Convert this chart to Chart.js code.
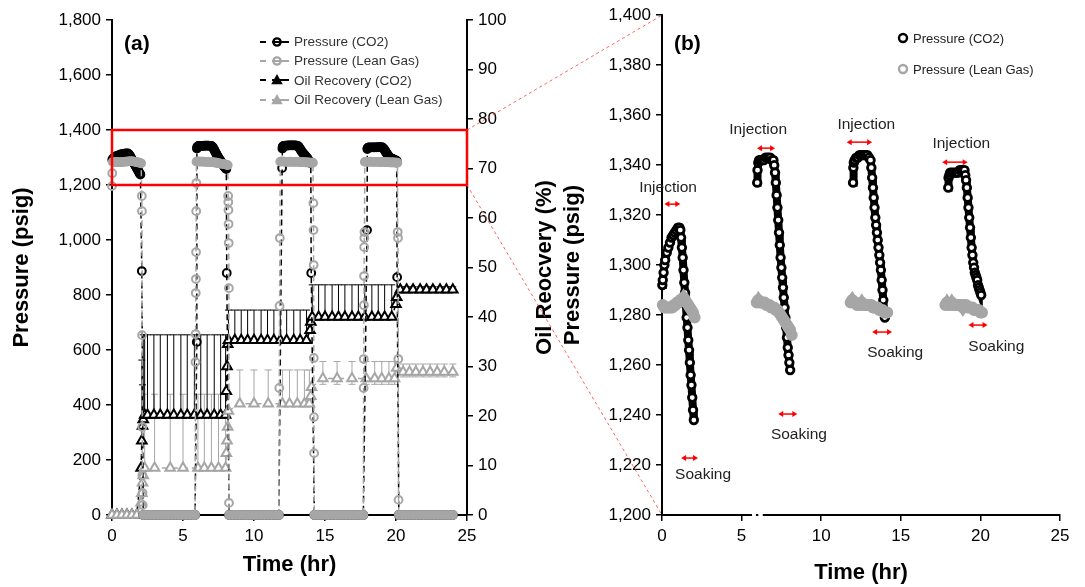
<!DOCTYPE html>
<html>
<head>
<meta charset="utf-8">
<title>Pressure and oil recovery</title>
<script src="https://cdn.jsdelivr.net/npm/chart.js@4.4.1/dist/chart.umd.min.js"></script>
<style>
    body {
        margin: 0;
        width: 1085px;
        height: 587px;
        position: relative;
        overflow: hidden;
        background: #fff;
        font-family: 'Liberation Sans', Arial, sans-serif;
    }
    canvas.chart { position: absolute; top: 0; }
    #leftChart { left: 0; }
    #rightChart { left: 560px; }
    #overlay { position: absolute; left: 0; top: 0; pointer-events: none; }
    .tag { position: absolute; font-size: 21px; font-weight: bold; color: #000; }
    .legend { position: absolute; font-size: 13.5px; color: #333; }
    .legend .row { display: flex; align-items: center; height: 19.3px; white-space: nowrap; }
    .legend svg { margin-right: 3px; flex: none; }
    .legend2 { position: absolute; font-size: 13px; color: #222; white-space: nowrap; }
    .legend2 .row { display: flex; align-items: center; height: 14px; }
    .legend2 svg { margin-right: 4px; flex: none; }
</style>
</head>
<body>
<canvas id="leftChart" class="chart" width="560" height="587"></canvas>
<canvas id="rightChart" class="chart" width="525" height="587"></canvas>
<canvas id="overlay" width="1085" height="587"></canvas>

<div class="tag" style="left:124px; top:31px;">(a)</div>
<div class="tag" style="left:674px; top:31px;">(b)</div>

<div class="legend" style="left:259px; top:32px;">
    <div class="row">
        <svg width="32" height="12"><line x1="1" y1="6" x2="7" y2="6" stroke="#000" stroke-width="2"/><line x1="13" y1="6" x2="30" y2="6" stroke="#000" stroke-width="2"/><circle cx="18" cy="6" r="3.6" fill="none" stroke="#000" stroke-width="2.4"/></svg>
        <span>Pressure (CO2)</span>
    </div>
    <div class="row">
        <svg width="32" height="12"><line x1="1" y1="6" x2="7" y2="6" stroke="#a6a6a6" stroke-width="2"/><line x1="13" y1="6" x2="30" y2="6" stroke="#a6a6a6" stroke-width="2"/><circle cx="18" cy="6" r="3.6" fill="none" stroke="#a6a6a6" stroke-width="2.4"/></svg>
        <span>Pressure (Lean Gas)</span>
    </div>
    <div class="row">
        <svg width="32" height="12"><line x1="1" y1="6" x2="7" y2="6" stroke="#000" stroke-width="2"/><line x1="13" y1="6" x2="30" y2="6" stroke="#000" stroke-width="2"/><polygon points="18,1.5 22.5,9.5 13.5,9.5" fill="#000" stroke="#000" stroke-width="1.5"/></svg>
        <span>Oil Recovery (CO2)</span>
    </div>
    <div class="row">
        <svg width="32" height="12"><line x1="1" y1="6" x2="7" y2="6" stroke="#a6a6a6" stroke-width="2"/><line x1="13" y1="6" x2="30" y2="6" stroke="#a6a6a6" stroke-width="2"/><polygon points="18,1.5 22.5,9.5 13.5,9.5" fill="#a6a6a6" stroke="#a6a6a6" stroke-width="1.5"/></svg>
        <span>Oil Recovery (Lean Gas)</span>
    </div>
</div>

<div class="legend2" style="left:897px; top:31px;">
    <div class="row"><svg width="12" height="12"><circle cx="6" cy="6" r="4" fill="none" stroke="#000" stroke-width="2.4"/></svg><span>Pressure (CO2)</span></div>
</div>
<div class="legend2" style="left:897px; top:62px;">
    <div class="row"><svg width="12" height="12"><circle cx="6" cy="6" r="4" fill="none" stroke="#a6a6a6" stroke-width="2.4"/></svg><span>Pressure (Lean Gas)</span></div>
</div>

<script>
// ---------------- data (time in hr, pressure in psig, recovery in %) ----------------

// CO2 pressure during injection + soaking, cycles 1-4
const co2T1 = [0.02, 0.05, 0.1, 0.15, 0.2, 0.3, 0.4, 0.5, 0.6, 0.7, 0.8, 0.9, 1.0, 1.1, 1.15, 1.2, 1.25, 1.3, 1.35, 1.4, 1.45, 1.5, 1.55, 1.6, 1.65, 1.7, 1.75, 1.8, 1.85, 1.9, 1.95, 2.0];
const co2P1 = [1292, 1294, 1297, 1300, 1302, 1305, 1307, 1309, 1311, 1312, 1313, 1314, 1315, 1315, 1314, 1311, 1307, 1303, 1298, 1293, 1289, 1284, 1279, 1275, 1270, 1266, 1261, 1256, 1252, 1247, 1242, 1238];
const co2T2 = [5.98, 6.0, 6.05, 6.1, 6.2, 6.3, 6.4, 6.5, 6.6, 6.7, 6.8, 6.9, 7.0, 7.05, 7.1, 7.15, 7.2, 7.25, 7.3, 7.35, 7.4, 7.45, 7.5, 7.55, 7.6, 7.65, 7.7, 7.75, 7.8, 7.85, 7.9, 7.95, 8.0, 8.05];
const co2P2 = [1333, 1338, 1341, 1342, 1342, 1342, 1342, 1343, 1343, 1343, 1343, 1342, 1342, 1340, 1337, 1333, 1328, 1323, 1318, 1313, 1308, 1303, 1299, 1295, 1291, 1287, 1283, 1279, 1275, 1271, 1267, 1264, 1261, 1258];
const co2T3 = [12.0, 12.02, 12.05, 12.1, 12.2, 12.3, 12.4, 12.5, 12.6, 12.7, 12.8, 12.9, 13.0, 13.1, 13.15, 13.2, 13.25, 13.3, 13.35, 13.4, 13.45, 13.5, 13.55, 13.6, 13.65, 13.7, 13.75, 13.8, 13.85, 13.9, 13.95, 14.0];
const co2P3 = [1333, 1339, 1341, 1342, 1343, 1343, 1344, 1344, 1344, 1344, 1344, 1344, 1343, 1342, 1339, 1335, 1331, 1327, 1323, 1319, 1316, 1313, 1310, 1307, 1304, 1301, 1298, 1294, 1290, 1286, 1282, 1279];
const co2T4 = [17.98, 18.0, 18.05, 18.1, 18.2, 18.3, 18.4, 18.5, 18.6, 18.7, 18.8, 18.9, 19.0, 19.05, 19.1, 19.15, 19.2, 19.25, 19.3, 19.35, 19.4, 19.45, 19.5, 19.55, 19.6, 19.65, 19.7, 19.75, 19.8, 19.85, 19.9, 19.95, 20.0, 20.05];
const co2P4 = [1331, 1335, 1336, 1337, 1337, 1337, 1337, 1337, 1337, 1338, 1338, 1338, 1338, 1336, 1334, 1331, 1327, 1323, 1319, 1315, 1311, 1307, 1304, 1301, 1299, 1297, 1296, 1295, 1294, 1292, 1291, 1290, 1289, 1288];

// Lean gas pressure during injection + soaking, cycles 1-4
const leanT1 = [0.05, 0.15, 0.25, 0.35, 0.45, 0.55, 0.65, 0.75, 0.85, 0.95, 1.05, 1.15, 1.25, 1.35, 1.45, 1.55, 1.65, 1.75, 1.85, 1.95, 2.05];
const leanP1 = [1284, 1283, 1283, 1283, 1283, 1283, 1283, 1284, 1284, 1285, 1285, 1286, 1286, 1287, 1286, 1285, 1284, 1283, 1282, 1281, 1279];
const leanT2 = [5.95, 6.05, 6.15, 6.25, 6.35, 6.45, 6.55, 6.65, 6.75, 6.85, 6.95, 7.05, 7.15, 7.25, 7.35, 7.45, 7.55, 7.65, 7.75, 7.85, 7.95, 8.05, 8.15];
const leanP2 = [1285, 1286, 1285, 1285, 1285, 1285, 1284, 1284, 1284, 1283, 1283, 1283, 1282, 1282, 1281, 1280, 1279, 1278, 1277, 1276, 1275, 1274, 1272];
const leanT3 = [11.85, 11.95, 12.05, 12.15, 12.25, 12.35, 12.45, 12.55, 12.65, 12.75, 12.85, 12.95, 13.05, 13.15, 13.25, 13.35, 13.45, 13.55, 13.65, 13.75, 13.85, 13.95, 14.05, 14.15];
const leanP3 = [1285, 1286, 1285, 1285, 1284, 1284, 1284, 1285, 1284, 1284, 1284, 1284, 1284, 1284, 1283, 1283, 1283, 1283, 1282, 1282, 1282, 1281, 1281, 1281];
const leanT4 = [17.8, 17.9, 18.0, 18.1, 18.2, 18.3, 18.4, 18.5, 18.6, 18.7, 18.8, 18.9, 19.0, 19.1, 19.2, 19.3, 19.4, 19.5, 19.6, 19.7, 19.8, 19.9, 20.0, 20.1];
const leanP4 = [1284, 1285, 1284, 1284, 1285, 1284, 1284, 1284, 1284, 1284, 1284, 1283, 1284, 1284, 1283, 1283, 1283, 1283, 1282, 1282, 1282, 1282, 1281, 1281];

// production periods (both gases back at 0 psig)
const prodT1 = [2.2, 2.45, 2.7, 2.95, 3.2, 3.45, 3.7, 3.95, 4.2, 4.45, 4.7, 4.95, 5.2, 5.45, 5.7, 5.85];
const prodP1 = [0, 0, 0, 0, 0, 0, 0, 0, 0, 0, 0, 0, 0, 0, 0, 0];
const prodT2 = [8.25, 8.5, 8.75, 9.0, 9.25, 9.5, 9.75, 10.0, 10.25, 10.5, 10.75, 11.0, 11.25, 11.5, 11.75];
const prodP2 = [0, 0, 0, 0, 0, 0, 0, 0, 0, 0, 0, 0, 0, 0, 0];
const prodT3 = [14.25, 14.5, 14.75, 15.0, 15.25, 15.5, 15.75, 16.0, 16.25, 16.5, 16.75, 17.0, 17.25, 17.5, 17.7];
const prodP3 = [0, 0, 0, 0, 0, 0, 0, 0, 0, 0, 0, 0, 0, 0, 0];
const prodT4 = [20.2, 20.45, 20.7, 20.95, 21.2, 21.45, 21.7, 21.95, 22.2, 22.45, 22.7, 22.95, 23.2, 23.45, 23.7, 24.0];
const prodP4 = [0, 0, 0, 0, 0, 0, 0, 0, 0, 0, 0, 0, 0, 0, 0, 0];

// readings logged while pressure was falling / building between periods
const co2StepT = [2.1, 5.97, 8.08, 11.98, 14.03, 17.96, 20.08];
const co2StepP = [887, 629, 880, 1262, 880, 1036, 865];
const leanStepT = [0, 0.02, 2.1, 2.11, 2.12, 2.13, 2.14, 2.15, 2.16, 5.88, 5.89, 5.9, 5.91, 5.92, 5.93, 5.94, 8.18, 8.19, 8.2, 8.21, 8.22, 8.23, 8.24, 11.78, 11.8, 11.82, 14.18, 14.19, 14.2, 14.21, 14.22, 14.23, 17.72, 17.73, 17.74, 17.75, 17.76, 17.77, 17.78, 20.12, 20.14, 20.16, 20.18];
const leanStepP = [1196, 1243, 1160, 1105, 654, 320, 145, 80, 36, 556, 658, 807, 858, 956, 1105, 1207, 1160, 1138, 1109, 1058, 989, 825, 44, 462, 760, 1007, 1134, 1036, 909, 571, 356, 225, 462, 567, 763, 869, 974, 1007, 1029, 1029, 1007, 567, 55];

// oil recovery, CO2
const recCo2T = [0, 0.35, 0.7, 1.05, 1.4, 1.75, 2.05, 2.1, 2.15, 2.2, 2.3, 2.5, 2.95, 3.4, 3.9, 4.35, 4.85, 5.3, 5.8, 6.25, 6.7, 7.2, 7.65, 8.0, 8.05, 8.1, 8.15, 8.2, 8.65, 9.1, 9.55, 10.0, 10.5, 10.95, 11.4, 11.85, 12.3, 12.8, 13.25, 13.7, 13.95, 14.0, 14.1, 14.55, 15.0, 15.5, 15.95, 16.4, 16.9, 17.35, 17.8, 18.3, 18.75, 19.2, 19.7, 20.0, 20.05, 20.3, 20.75, 21.2, 21.7, 22.15, 22.6, 23.1, 23.55, 24.0];
const recCo2V = [0, 0, 0, 0, 0, 0, 9.5, 15, 18, 19.3, 20.2, 20.2, 20.2, 20.2, 20.2, 20.2, 20.2, 20.2, 20.2, 20.2, 20.2, 20.2, 20.2, 20.2, 25, 30, 34.5, 35.3, 35.3, 35.3, 35.3, 35.3, 35.3, 35.3, 35.3, 35.3, 35.3, 35.3, 35.3, 35.3, 37.3, 39, 40, 40, 40, 40, 40, 40, 40, 40, 40, 40, 40, 40, 40, 42.6, 44, 45.5, 45.5, 45.5, 45.5, 45.5, 45.5, 45.5, 45.5, 45.5];
const recCo2Err = [0, 0, 0, 0, 0, 0, 0, 16.3, 8.3, 17.1, 16.2, 16.2, 16.2, 16.2, 16.2, 16.2, 16.2, 16.2, 16.2, 16.2, 16.2, 16.2, 16.2, 16.2, 0, 0, 0, 6.1, 6.1, 6.1, 6.1, 6.1, 6.1, 6.1, 6.1, 6.1, 6.1, 6.1, 6.1, 6.1, 0, 0, 6.5, 6.5, 6.5, 6.5, 6.5, 6.5, 6.5, 6.5, 6.5, 6.5, 6.5, 6.5, 6.5, 0, 0, 0.6, 0.6, 0.6, 0.6, 0.6, 0.6, 0.6, 0.6, 0.6];

// oil recovery, lean gas
const recLeanT = [0, 0.35, 0.7, 1.05, 1.4, 1.75, 2.05, 2.1, 2.15, 2.2, 2.3, 3.0, 4.1, 5.0, 6.05, 6.5, 7.0, 7.5, 8.0, 8.05, 8.1, 8.15, 8.2, 9.0, 10.0, 11.0, 12.0, 12.5, 13.05, 13.55, 13.9, 14.0, 14.05, 14.85, 15.85, 16.9, 17.9, 18.5, 19.0, 19.5, 19.9, 20.05, 20.5, 20.95, 21.4, 21.9, 22.4, 22.9, 23.4, 24.0];
const recLeanV = [0, 0, 0, 0, 0, 0, 2.5, 4.4, 6.5, 8, 9.5, 9.5, 9.5, 9.5, 9.5, 9.5, 9.5, 9.5, 9.5, 12.5, 15, 17.8, 21, 22.5, 22.5, 22.5, 22.5, 22.5, 22.5, 22.5, 22.5, 24, 25.8, 27.6, 27.6, 27.6, 27.6, 27.6, 27.6, 27.6, 27.6, 29.7, 28.9, 28.9, 28.9, 28.9, 28.9, 28.9, 28.9, 28.9];
const recLeanErr = [0, 0, 0, 0, 0, 0, 0, 0, 0, 0, 14.9, 14.9, 14.9, 14.9, 14.9, 14.9, 14.9, 14.9, 14.9, 0, 0, 0, 0, 6.8, 6.8, 6.8, 6.8, 6.8, 6.8, 6.8, 6.8, 0, 0, 3.4, 3.4, 3.4, 3.4, 3.4, 3.4, 3.4, 3.4, 0, 1.6, 1.6, 1.6, 1.6, 1.6, 1.6, 1.6, 1.6];
const recLeanErrLow = [0, 0, 0, 0, 0, 0, 0, 0, 0, 0, 0, 0, 0, 0, 0, 0, 0, 0, 0, 0, 0, 0, 0, 0, 0, 0, 0, 0, 0, 0, 0, 0, 0, 1.2, 1.2, 1.2, 1.2, 1.2, 1.2, 1.2, 1.2, 0, 1.0, 1.0, 1.0, 1.0, 1.0, 1.0, 1.0, 1.0];

// tick ranges
const timeTicks = [0, 25, 5];
const pressTicks = [0, 1800, 200];
const recTicks = [0, 100, 10];
const zoomTicks = [1200, 1400, 20];

// ---------------- helpers ----------------

const GRAY = '#a6a6a6';
const FONT = "'Liberation Sans', Arial, sans-serif";

Chart.defaults.font.family = FONT;
Chart.defaults.color = '#000';

// dense = logged every few minutes, so the markers merge into a solid band
function pairs(ts, vs, dense) {
    return ts.map((t, i) => ({ x: t, y: vs[i], dense: !!dense }));
}

function byTime(a, b) {
    return a.x - b.x;
}

function comma(v) {
    return String(v).replace(/\B(?=(\d{3})+(?!\d))/g, ',');
}

const co2Cycles = [pairs(co2T1, co2P1, true), pairs(co2T2, co2P2, true), pairs(co2T3, co2P3, true), pairs(co2T4, co2P4, true)];
const leanCycles = [pairs(leanT1, leanP1, true), pairs(leanT2, leanP2, true), pairs(leanT3, leanP3, true), pairs(leanT4, leanP4, true)];
const production = [].concat(pairs(prodT1, prodP1, true), pairs(prodT2, prodP2, true), pairs(prodT3, prodP3, true), pairs(prodT4, prodP4, true));

const co2Full = [].concat(...co2Cycles, production, pairs(co2StepT, co2StepP)).sort(byTime);
const leanFull = [].concat(...leanCycles, production, pairs(leanStepT, leanStepP)).sort(byTime);

function axisStyle(extra) {
    return Object.assign({
        type: 'linear',
        grid: { drawOnChartArea: false, drawTicks: true, tickLength: 6, color: '#000', lineWidth: 1.5 },
        border: { display: true, color: '#000', width: 2 }
    }, extra);
}

function tickFont() {
    return { size: 17 };
}

function titleFont() {
    return { size: 22, weight: 'bold' };
}

// vertical error bars drawn under the markers
const errorBars = {
    id: 'errorBars',
    beforeDatasetsDraw(chart) {
        const ctx = chart.ctx;
        chart.data.datasets.forEach((ds, i) => {
            if (!ds.errPlus) return;
            const meta = chart.getDatasetMeta(i);
            const ys = chart.scales[meta.yAxisID];
            ctx.save();
            ctx.strokeStyle = ds.borderColor;
            ctx.lineWidth = 1;
            meta.data.forEach((pt, j) => {
                const v = ds.data[j].y;
                const up = ds.errPlus[j] || 0;
                const dn = ds.errMinus ? (ds.errMinus[j] || 0) : 0;
                if (!up && !dn) return;
                const yTop = ys.getPixelForValue(v + up);
                const yBot = ys.getPixelForValue(v - dn);
                ctx.beginPath();
                ctx.moveTo(pt.x, yBot);
                ctx.lineTo(pt.x, yTop);
                if (up) { ctx.moveTo(pt.x - 3.5, yTop); ctx.lineTo(pt.x + 3.5, yTop); }
                if (dn) { ctx.moveTo(pt.x - 3.5, yBot); ctx.lineTo(pt.x + 3.5, yBot); }
                ctx.stroke();
            });
            ctx.restore();
        });
    }
};

// red box marking the zoomed window of panel (b)
const zoomBox = {
    id: 'zoomBox',
    afterDatasetsDraw(chart) {
        const { ctx, scales } = chart;
        const x0 = scales.x.getPixelForValue(timeTicks[0]);
        const x1 = scales.x.getPixelForValue(timeTicks[1]);
        const y0 = scales.y.getPixelForValue(zoomTicks[1]);
        const y1 = scales.y.getPixelForValue(zoomTicks[0]);
        ctx.save();
        ctx.strokeStyle = '#ff0000';
        ctx.lineWidth = 2.5;
        ctx.strokeRect(x0, y0, x1 - x0, y1 - y0);
        ctx.restore();
    }
};

// right axis title reads bottom-to-top, like the left one
const recoveryTitle = {
    id: 'recoveryTitle',
    afterDraw(chart) {
        const { ctx, chartArea } = chart;
        ctx.save();
        ctx.translate(chart.width - 15, (chartArea.top + chartArea.bottom) / 2);
        ctx.rotate(-Math.PI / 2);
        ctx.font = 'bold 22px ' + FONT;
        ctx.fillStyle = '#000';
        ctx.textAlign = 'center';
        ctx.textBaseline = 'middle';
        ctx.fillText('Oil Reocvery (%)', 0, 0);
        ctx.restore();
    }
};

// injection / soaking notes for panel (b)
const notes = [
    { text: 'Injection', t: 0.38, p: 1331, a0: 0.15, a1: 1.15, ap: 1324.4 },
    { text: 'Injection', t: 6.04, p: 1354, a0: 5.97, a1: 7.1, ap: 1346.8 },
    { text: 'Injection', t: 12.83, p: 1356, a0: 11.6, a1: 13.2, ap: 1349.2 },
    { text: 'Injection', t: 18.8, p: 1348.4, a0: 17.6, a1: 19.2, ap: 1341.2 },
    { text: 'Soaking', t: 2.58, p: 1216, a0: 1.2, a1: 2.26, ap: 1222.8 },
    { text: 'Soaking', t: 8.6, p: 1232, a0: 7.3, a1: 8.5, ap: 1240.4 },
    { text: 'Soaking', t: 14.65, p: 1265, a0: 13.2, a1: 14.45, ap: 1273.2 },
    { text: 'Soaking', t: 21.0, p: 1267.2, a0: 19.25, a1: 20.45, ap: 1276 }
];

function arrowHead(ctx, x, y, dir) {
    ctx.beginPath();
    ctx.moveTo(x, y);
    ctx.lineTo(x - dir * 5, y - 3);
    ctx.lineTo(x - dir * 5, y + 3);
    ctx.closePath();
    ctx.fill();
}

const noteLayer = {
    id: 'noteLayer',
    afterDraw(chart) {
        const { ctx, scales } = chart;
        ctx.save();
        ctx.font = '15.5px ' + FONT;
        ctx.textAlign = 'center';
        ctx.textBaseline = 'middle';
        notes.forEach(n => {
            ctx.fillStyle = '#222';
            ctx.fillText(n.text, scales.x.getPixelForValue(n.t), scales.y.getPixelForValue(n.p));
            const xa = scales.x.getPixelForValue(n.a0);
            const xb = scales.x.getPixelForValue(n.a1);
            const ya = scales.y.getPixelForValue(n.ap);
            ctx.strokeStyle = '#ff0000';
            ctx.fillStyle = '#ff0000';
            ctx.lineWidth = 1.5;
            ctx.beginPath();
            ctx.moveTo(xa + 3, ya);
            ctx.lineTo(xb - 3, ya);
            ctx.stroke();
            arrowHead(ctx, xa, ya, -1);
            arrowHead(ctx, xb, ya, 1);
        });
        // axis break mark near 6 hr
        const yb = scales.y.getPixelForValue(zoomTicks[0]);
        ctx.fillStyle = '#fff';
        ctx.fillRect(scales.x.getPixelForValue(5.65), yb - 2, scales.x.getPixelForValue(5.9) - scales.x.getPixelForValue(5.65), 4);
        ctx.fillRect(scales.x.getPixelForValue(6.05), yb - 2, scales.x.getPixelForValue(6.33) - scales.x.getPixelForValue(6.05), 4);
        ctx.restore();
    }
};

function pressureSet(label, data, color, order) {
    return {
        label: label,
        data: data,
        yAxisID: 'y',
        showLine: true,
        borderColor: color,
        borderWidth: 1.5,
        borderDash: [6, 4],
        pointRadius: 3.9,
        pointBorderWidth: 2,
        pointBorderColor: color,
        pointBackgroundColor: c => (c.raw && c.raw.dense) ? color : 'rgba(0,0,0,0)',
        clip: 8,
        order: order
    };
}

// panel (b): one chain per cycle, markers packed so tightly they read as a band
function chainSet(label, data, color, order, hollow) {
    return {
        label: label,
        data: data,
        showLine: true,
        borderColor: color,
        borderWidth: hollow ? 8 : 10,
        pointRadius: hollow ? 3.8 : 4.6,
        pointBorderWidth: 2.8,
        pointBorderColor: color,
        pointBackgroundColor: hollow ? '#fff' : color,
        clip: 8,
        order: order
    };
}

function recoverySet(label, data, color, order, errPlus, errMinus) {
    return {
        label: label,
        data: data,
        yAxisID: 'y2',
        showLine: true,
        borderColor: color,
        borderWidth: 1.5,
        borderDash: [6, 4],
        pointStyle: 'triangle',
        pointRadius: 5.5,
        pointBorderWidth: 2,
        pointBorderColor: color,
        pointBackgroundColor: '#fff',
        errPlus: errPlus,
        errMinus: errMinus,
        clip: 8,
        order: order
    };
}

// ---------------- panel (a) ----------------

const leftChart = new Chart(document.getElementById('leftChart'), {
    type: 'scatter',
    data: {
        datasets: [
            pressureSet('Pressure (Lean Gas)', leanFull, GRAY, 1),
            pressureSet('Pressure (CO2)', co2Full, '#000', 2),
            recoverySet('Oil Recovery (Lean Gas)', pairs(recLeanT, recLeanV), GRAY, 3, recLeanErr, recLeanErrLow),
            recoverySet('Oil Recovery (CO2)', pairs(recCo2T, recCo2V), '#000', 4, recCo2Err, null)
        ]
    },
    options: {
        responsive: false,
        animation: false,
        events: [],
        layout: { padding: { top: 20, left: 0, right: 0, bottom: 0 } },
        plugins: { legend: { display: false }, tooltip: { enabled: false } },
        scales: {
            x: axisStyle({
                position: 'bottom',
                min: timeTicks[0], max: timeTicks[1],
                ticks: { stepSize: timeTicks[2], font: tickFont(), color: '#000', padding: 5, maxRotation: 0 },
                title: { display: true, text: 'Time (hr)', font: titleFont(), color: '#000', padding: { top: 0, bottom: 9 } },
                afterFit(s) { s.height = 72; }
            }),
            y: axisStyle({
                position: 'left',
                min: pressTicks[0], max: pressTicks[1],
                ticks: { stepSize: pressTicks[2], font: tickFont(), color: '#000', padding: 5, callback: v => comma(v) },
                title: { display: true, text: 'Pressure (psig)', font: titleFont(), color: '#000', padding: { top: 9, bottom: 0 } },
                afterFit(s) { s.width = 112; }
            }),
            y2: axisStyle({
                position: 'right',
                min: recTicks[0], max: recTicks[1],
                ticks: { stepSize: recTicks[2], font: tickFont(), color: '#000', padding: 5 },
                afterFit(s) { s.width = 93; }
            })
        }
    },
    plugins: [errorBars, zoomBox, recoveryTitle]
});

// ---------------- panel (b) ----------------

const rightSets = [];
leanCycles.forEach(d => rightSets.push(chainSet('Pressure (Lean Gas)', d, GRAY, 1, false)));
co2Cycles.forEach(d => rightSets.push(chainSet('Pressure (CO2)', d, '#000', 2, true)));

const rightChart = new Chart(document.getElementById('rightChart'), {
    type: 'scatter',
    data: { datasets: rightSets },
    options: {
        responsive: false,
        animation: false,
        events: [],
        layout: { padding: { top: 15, left: 0, right: 25, bottom: 0 } },
        plugins: { legend: { display: false }, tooltip: { enabled: false } },
        scales: {
            x: axisStyle({
                position: 'bottom',
                min: timeTicks[0], max: timeTicks[1],
                ticks: { stepSize: timeTicks[2], font: tickFont(), color: '#000', padding: 5, maxRotation: 0 },
                title: { display: true, text: 'Time (hr)', font: titleFont(), color: '#000', padding: { top: 0, bottom: 1 } },
                afterFit(s) { s.height = 72; }
            }),
            y: axisStyle({
                position: 'left',
                min: zoomTicks[0], max: zoomTicks[1],
                ticks: { stepSize: zoomTicks[2], font: tickFont(), color: '#000', padding: 5, callback: v => comma(v) },
                title: { display: true, text: 'Pressure (psig)', font: titleFont(), color: '#000', padding: { top: 0, bottom: 0 } },
                afterFit(s) { s.width = 102; }
            })
        }
    },
    plugins: [noteLayer]
});

// ---------------- dashed leader lines between the panels ----------------

(function drawLeaders() {
    const ctx = document.getElementById('overlay').getContext('2d');
    const ls = leftChart.scales;
    const rs = rightChart.scales;
    const offset = 560;
    const xa = ls.x.getPixelForValue(timeTicks[1]);
    const xb = offset + rs.x.getPixelForValue(timeTicks[0]);
    ctx.save();
    ctx.strokeStyle = 'rgba(255, 60, 60, 0.8)';
    ctx.lineWidth = 1;
    ctx.setLineDash([3, 3]);
    [zoomTicks[1], zoomTicks[0]].forEach(p => {
        ctx.beginPath();
        ctx.moveTo(xa, ls.y.getPixelForValue(p));
        ctx.lineTo(xb, rs.y.getPixelForValue(p));
        ctx.stroke();
    });
    ctx.restore();
})();
</script>
</body>
</html>
